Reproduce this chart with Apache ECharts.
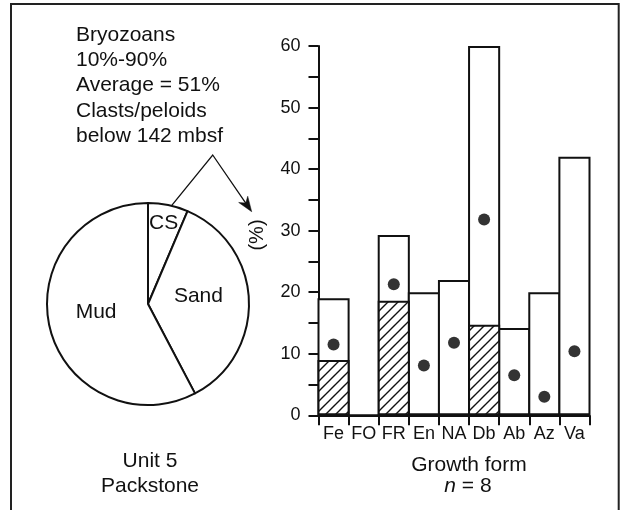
<!DOCTYPE html>
<html>
<head>
<meta charset="utf-8">
<script src="https://cdn.jsdelivr.net/npm/echarts@6/dist/echarts.min.js"></script>
<style>
  html, body { margin: 0; padding: 0; background: #fff; }
  #chart { width: 621px; height: 510px; }
</style>
</head>
<body>
<div id="chart"></div>
<script>
// Growth-form composition (%) of bryozoans
const categories = ['Fe', 'FO', 'FR', 'En', 'NA', 'Db', 'Ab', 'Az', 'Va'];
const totalValues = [19, 0, 29.3, 20, 22, 60, 14.2, 20, 42];
const hatchedValues = [9, null, 18.6, null, null, 14.7, null, null, null];
const meanValues = [11.5, null, 21.3, 8.1, 11.8, 31.8, 6.5, 3, 10.4];
const yTicks = [0, 10, 20, 30, 40, 50, 60];

// Sediment composition of the unit
const pieNames = ['CS', 'Sand', 'Mud'];
const pieValues = [6.4, 35.9, 57.7];

const noteLines = ['Bryozoans', '10%-90%', 'Average = 51%', 'Clasts/peloids', 'below 142 mbsf'];

const FONT = '"Liberation Sans", Arial, Helvetica, sans-serif';

// plot area
const GRID = { left: 318.5, right: 31.5, top: 46, bottom: 94.7 };
const BORDER = 2;
const bandWidth = (621 - GRID.left - GRID.right) / categories.length;
// bar borders are drawn inside the rect, so widen by the border so neighbours share one edge
const barPx = bandWidth + BORDER;

// diagonal hatch tile
function makeHatch() {
  const c = document.createElement('canvas');
  c.width = 10; c.height = 10;
  const g = c.getContext('2d');
  g.fillStyle = '#fff';
  g.fillRect(0, 0, 10, 10);
  g.strokeStyle = '#111';
  g.lineWidth = 1.4;
  g.beginPath();
  g.moveTo(-2, 12); g.lineTo(12, -2);
  g.moveTo(-7, 7); g.lineTo(7, -7);
  g.moveTo(3, 17); g.lineTo(17, 3);
  g.stroke();
  return c;
}
const hatch = makeHatch();

const pieLabelOffsets = { CS: [5, -28], Sand: [-3, -6], Mud: [0, -5] };

const chart = echarts.init(document.getElementById('chart'), null, { renderer: 'canvas' });

const noteGraphics = noteLines.map((t, i) => ({
  type: 'text',
  style: {
    x: 76, y: 35.3 + i * 25.2, text: t,
    font: '21px ' + FONT, fill: '#111', verticalAlign: 'middle', align: 'left'
  }
}));

// annotation pointer
const apex = [212.7, 155], tip = [251.7, 211.7];
const dx = tip[0] - apex[0], dy = tip[1] - apex[1];
const len = Math.hypot(dx, dy), ux = dx / len, uy = dy / len;
const px = -uy, py = ux;
const headLen = 15, headW = 5.5;
const base = [tip[0] - ux * headLen, tip[1] - uy * headLen];
const notch = [tip[0] - ux * headLen * 0.7, tip[1] - uy * headLen * 0.7];

chart.setOption({
  animation: false,
  backgroundColor: '#fff',
  textStyle: { fontFamily: FONT },
  grid: Object.assign({ containLabel: false }, GRID),
  xAxis: {
    type: 'category',
    data: categories,
    boundaryGap: true,
    axisLine: { lineStyle: { color: '#111', width: 2 } },
    axisTick: { show: true, alignWithLabel: false, length: 10, lineStyle: { color: '#111', width: 2 }, interval: 0 },
    axisLabel: { interval: 0, fontSize: 18, color: '#111', margin: 10, fontFamily: FONT },
    splitLine: { show: false }
  },
  yAxis: {
    type: 'value',
    min: 0, max: 60, interval: 5,
    axisLine: { show: true, lineStyle: { color: '#111', width: 2 } },
    axisTick: { show: true, inside: false, length: 10, lineStyle: { color: '#111', width: 2 } },
    axisLabel: {
      fontSize: 18, color: '#111', margin: 18, fontFamily: FONT,
      formatter: v => (yTicks.indexOf(v) >= 0 ? String(v) : '')
    },
    splitLine: { show: false }
  },
  series: [
    {
      type: 'bar',
      name: 'Total',
      data: totalValues,
      barWidth: barPx,
      barGap: '-100%',
      itemStyle: { color: '#fff', borderColor: '#111', borderWidth: BORDER },
      silent: true,
      z: 2
    },
    {
      type: 'bar',
      name: 'Hatched',
      data: hatchedValues,
      barWidth: barPx,
      barGap: '-100%',
      itemStyle: { color: { image: hatch, repeat: 'repeat' }, borderColor: '#111', borderWidth: BORDER },
      silent: true,
      z: 3
    },
    {
      type: 'scatter',
      name: 'Mean',
      data: meanValues,
      symbol: 'circle',
      symbolSize: 12,
      itemStyle: { color: '#000' },
      silent: true,
      z: 5
    },
    {
      type: 'pie',
      center: [148, 304],
      radius: 101,
      startAngle: 90,
      clockwise: true,
      silent: true,
      avoidLabelOverlap: false,
      emphasis: { disabled: true },
      itemStyle: { color: '#fff', borderColor: '#111', borderWidth: 2 },
      label: {
        show: true, position: 'inside', rotate: 0,
        fontSize: 21, color: '#111', fontFamily: FONT,
        formatter: '{b}'
      },
      labelLine: { show: false },
      data: pieNames.map((n, i) => ({
        name: n, value: pieValues[i],
        label: { offset: pieLabelOffsets[n] }
      }))
    }
  ],
  graphic: [
    {
      type: 'rect',
      shape: { x: 11, y: 4, width: 607.7, height: 520 },
      style: { fill: 'none', stroke: '#222', lineWidth: 2 },
      silent: true, z: 10
    },
    ...noteGraphics,
    {
      type: 'polyline',
      shape: { points: [[166.7, 211.7], apex, notch] },
      style: { stroke: '#111', lineWidth: 1.3, fill: 'none' },
      silent: true
    },
    {
      type: 'polygon',
      shape: {
        points: [
          tip,
          [base[0] + px * headW, base[1] + py * headW],
          notch,
          [base[0] - px * headW, base[1] - py * headW]
        ]
      },
      style: { fill: '#111', stroke: '#111', lineWidth: 0.5 },
      silent: true
    },
    {
      type: 'text',
      x: 257, y: 235,
      rotation: Math.PI / 2,
      style: { x: 0, y: 0, text: '(%)', font: '20px ' + FONT, fill: '#111', align: 'center', verticalAlign: 'middle' }
    },
    {
      type: 'text',
      style: { x: 150, y: 461.5, text: 'Unit 5', font: '21px ' + FONT, fill: '#111', align: 'center', verticalAlign: 'middle' }
    },
    {
      type: 'text',
      style: { x: 150, y: 486.5, text: 'Packstone', font: '21px ' + FONT, fill: '#111', align: 'center', verticalAlign: 'middle' }
    },
    {
      type: 'text',
      style: { x: 469, y: 465, text: 'Growth form', font: '21px ' + FONT, fill: '#111', align: 'center', verticalAlign: 'middle' }
    },
    {
      type: 'text',
      style: {
        x: 468, y: 486.5,
        text: '{i|n} = 8',
        align: 'center', verticalAlign: 'middle',
        font: '21px ' + FONT, fill: '#111',
        rich: { i: { fontStyle: 'italic', fontSize: 21, fontFamily: FONT, fill: '#111' } }
      }
    }
  ]
});
</script>
</body>
</html>
